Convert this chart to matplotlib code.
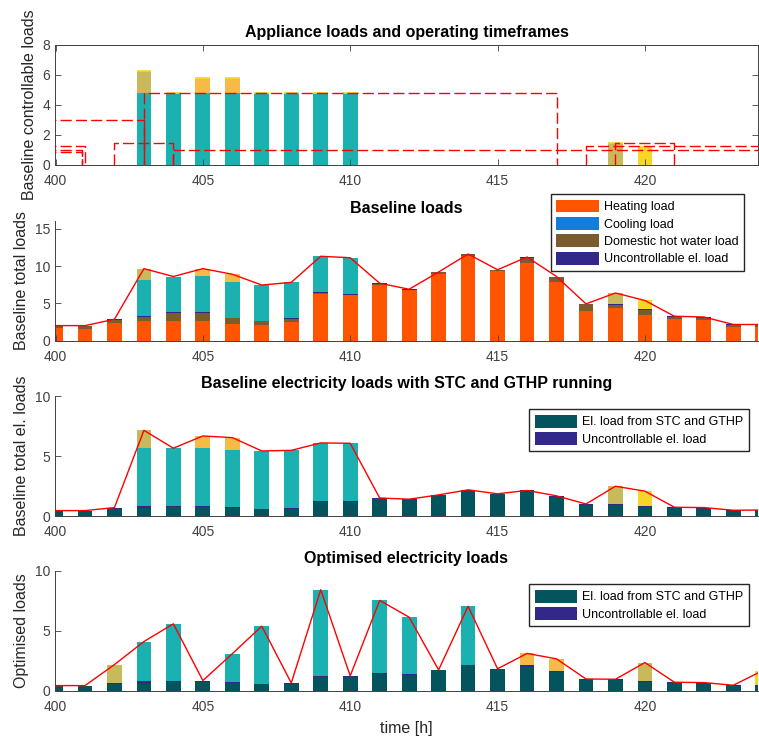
import numpy as np
import matplotlib
matplotlib.use("Agg")
import matplotlib.pyplot as plt
from matplotlib.patches import Patch

matplotlib.rcParams['font.family'] = ['Liberation Sans', 'DejaVu Sans']

hours = np.arange(400, 425)

# baseline thermal loads
heating = [1.75, 1.6, 2.35, 2.65, 2.7, 2.65, 2.2, 2.1, 2.5, 6.25, 6.1, 7.5, 6.8,
           9.0, 11.4, 9.4, 10.4, 7.9, 3.95, 4.4, 3.4, 2.9, 2.75, 1.9, 1.9]
cooling = [0, 0, 0, 0, 0, 0, 0, 0, 0, 0, 0, 0, 0,
           0, 0, 0, 0, 0, 0, 0, 0, 0, 0, 0, 0]
dhw = [0.25, 0.4, 0.45, 0.55, 1.0, 1.05, 0.8, 0.5, 0.4, 0.15, 0.1, 0.1, 0.05,
       0.15, 0.15, 0.05, 0.7, 0.6, 0.95, 0.4, 0.7, 0.3, 0.35, 0.2, 0.2]
uncontrollable = [0.05, 0.05, 0.1, 0.15, 0.1, 0.15, 0.1, 0.06, 0.12, 0.1, 0.1, 0.1, 0.05,
                  0.05, 0.05, 0.05, 0.1, 0.1, 0.05, 0.1, 0.1, 0.1, 0.1, 0.1, 0.1]
# electricity used by STC and GTHP
el_stc_gthp = [0.4, 0.4, 0.6, 0.69, 0.75, 0.72, 0.63, 0.56, 0.55, 1.19, 1.16, 1.4, 1.35,
               1.71, 2.13, 1.8, 2.03, 1.58, 0.95, 0.88, 0.77, 0.63, 0.6, 0.38, 0.4]

# controllable appliances, baseline schedule
app_a_base = [0, 0, 0, 4.8, 4.8, 4.8, 4.8, 4.8, 4.8, 4.8, 4.8, 0, 0,
              0, 0, 0, 0, 0, 0, 0, 0, 0, 0, 0, 0]
app_b_base = [0, 0, 0, 1.5, 0, 0, 0, 0, 0, 0, 0, 0, 0,
              0, 0, 0, 0, 0, 0, 1.5, 0, 0, 0, 0, 0]
app_c_base = [0, 0, 0, 0, 0, 1.0, 1.0, 0, 0, 0, 0, 0, 0,
              0, 0, 0, 0, 0, 0, 0, 0, 0, 0, 0, 0]
app_d_base = [0, 0, 0, 0, 0, 0, 0, 0, 0, 0, 0, 0, 0,
              0, 0, 0, 0, 0, 0, 0, 1.2, 0, 0, 0, 0]

# controllable appliances, optimised schedule
app_a_opt = [0, 0, 0, 3.28, 4.75, 0, 2.38, 4.78, 0, 7.15, 0, 6.05, 4.75,
             0, 4.88, 0, 0, 0, 0, 0, 0, 0, 0, 0, 0]
app_b_opt = [0, 0, 1.5, 0, 0, 0, 0, 0, 0, 0, 0, 0, 0,
             0, 0, 0, 0, 0, 0, 0, 1.5, 0, 0, 0, 0]
app_c_opt = [0, 0, 0, 0, 0, 0, 0, 0, 0, 0, 0, 0, 0,
             0, 0, 0, 1.0, 1.0, 0, 0, 0, 0, 0, 0, 0]
app_d_opt = [0, 0, 0, 0, 0, 0, 0, 0, 0, 0, 0, 0, 0,
             0, 0, 0, 0, 0, 0, 0, 0, 0, 0, 0, 1.2]

# operating timeframes (start, end, load level)
tf_start = [395, 403, 402, 404, 395, 395, 395, 418, 419]
tf_end = [403, 417, 404, 430, 401, 400.9, 400.9, 430, 421]
tf_level = [3.0, 4.8, 1.5, 1.0, 1.25, 1.0, 0.85, 1.27, 1.5]

c_heat = '#ff5500'
c_cool = '#147ddc'
c_dhw = '#7a5c2e'
c_unc = '#32288a'
c_el = '#04545e'
c_a = '#1ab1b0'
c_b = '#c8b95a'
c_c = '#f6ba46'
c_d = '#f8d628'
axcol = '#404040'

W = 0.5


def stack(ax, series):
    bottom = np.zeros(len(hours))
    for vals, col in series:
        vals = np.array(vals, dtype=float)
        ax.bar(hours, vals, W, bottom=bottom, color=col, linewidth=0)
        bottom = bottom + vals
    return bottom


def style(ax, yticks, ylim, ylabel, title, box=False):
    ax.set_xlim(400, 423.82)
    ax.set_ylim(*ylim)
    ax.set_xticks([400, 405, 410, 415, 420])
    ax.set_yticks(yticks)
    ax.tick_params(direction='in', labelsize=10, colors=axcol, length=4, width=0.6,
                   top=box, right=box)
    ax.tick_params(axis='x', pad=6.5)
    ax.tick_params(axis='y', pad=4)
    for s in ax.spines.values():
        s.set_color(axcol)
        s.set_linewidth(0.7)
    if not box:
        ax.spines['top'].set_visible(False)
        ax.spines['right'].set_visible(False)
    ax.set_ylabel(ylabel, fontsize=11.5, color='#262626', labelpad=4)
    ax.set_title(title, fontsize=11.5, fontweight='bold', pad=6)


def legend(ax, colors, labels, anchor):
    handles = [Patch(facecolor=c, edgecolor='none') for c in colors]
    ax.legend(handles, labels, loc='upper right', bbox_to_anchor=anchor, fontsize=9,
              fancybox=False, framealpha=1, edgecolor='#262626', handlelength=3.4,
              handleheight=1.2, labelspacing=0.3, borderaxespad=0, handletextpad=0.4,
              borderpad=0.45)


fig = plt.figure(figsize=(7.59, 7.40), dpi=100)
L, Wd, H = 55.5 / 759, 702 / 759, 120 / 740
ax1 = fig.add_axes([L, (740 - 165) / 740, Wd, H])
ax2 = fig.add_axes([L, (740 - 341) / 740, Wd, H])
ax3 = fig.add_axes([L, (740 - 516) / 740, Wd, H])
ax4 = fig.add_axes([L, (740 - 691) / 740, Wd, H])

# panel 1
top1 = stack(ax1, [(app_a_base, c_a), (app_b_base, c_b), (app_c_base, c_c), (app_d_base, c_d)])
on = top1 > 0
ax1.bar(hours[on], np.zeros(on.sum()), W, bottom=top1[on], color=c_d, edgecolor=c_d, linewidth=1.2)
for s, e, h in zip(tf_start, tf_end, tf_level):
    ax1.plot([s, s, e, e], [0, h, h, 0], color='red', lw=1, linestyle=(0, (8, 3)), zorder=5)
style(ax1, [0, 2, 4, 6, 8], (0, 8), 'Baseline controllable loads',
      'Appliance loads and operating timeframes', box=True)

# panel 2
top2 = stack(ax2, [(heating, c_heat), (cooling, c_cool), (dhw, c_dhw), (uncontrollable, c_unc),
                   (app_a_base, c_a), (app_b_base, c_b), (app_c_base, c_c), (app_d_base, c_d)])
ax2.plot(hours, top2, color='red', lw=1, zorder=5)
style(ax2, [0, 5, 10, 15], (0, 16), 'Baseline total loads', 'Baseline loads')
legend(ax2, (c_heat, c_cool, c_dhw, c_unc),
       ['Heating load', 'Cooling load', 'Domestic hot water load', 'Uncontrollable el. load'],
       (0.981, 1.225))

# panel 3
top3 = stack(ax3, [(el_stc_gthp, c_el), (uncontrollable, c_unc),
                   (app_a_base, c_a), (app_b_base, c_b), (app_c_base, c_c), (app_d_base, c_d)])
ax3.plot(hours, top3, color='red', lw=1, zorder=5)
style(ax3, [0, 5, 10], (0, 10), 'Baseline total el. loads',
      'Baseline electricity loads with STC and GTHP running')

# panel 4
top4 = stack(ax4, [(el_stc_gthp, c_el), (uncontrollable, c_unc),
                   (app_a_opt, c_a), (app_b_opt, c_b), (app_c_opt, c_c), (app_d_opt, c_d)])
ax4.plot(hours, top4, color='red', lw=1, zorder=5)
style(ax4, [0, 5, 10], (0, 10), 'Optimised loads', 'Optimised electricity loads')
ax4.set_xlabel('time [h]', fontsize=11.5, color='#262626', labelpad=5)

for ax in (ax3, ax4):
    legend(ax, (c_el, c_unc), ['El. load from STC and GTHP', 'Uncontrollable el. load'],
           (0.988, 0.89))

fig.savefig('out.png', dpi=100)
